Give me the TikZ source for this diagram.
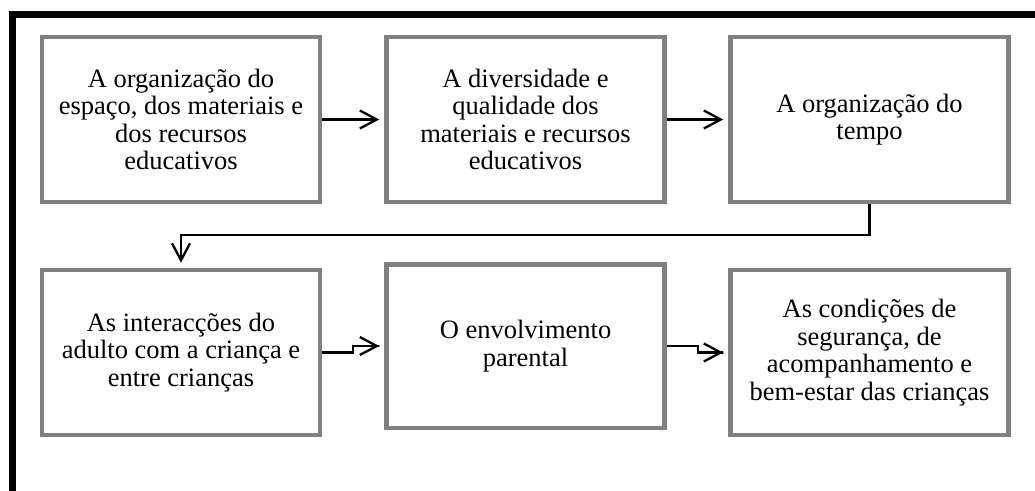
\documentclass[tikz,border=0pt]{standalone}
\usepackage{fontspec}
\setmainfont{Liberation Serif}
\usetikzlibrary{arrows.meta}
\begin{document}
\begin{tikzpicture}[x=1pt, y=-1pt,
    caixa/.style={draw=gray, line width=4.5pt,
      minimum width=278pt, minimum height=165pt, align=center,
      font=\fontsize{26.5pt}{27.5pt}\selectfont},
    seta/.style={line width=2.3pt, -{Straight Barb[length=17pt,width=18pt,line width=2.3pt]}, shorten >=5pt}]
            \useasboundingbox (0,0) rectangle (1035,490);
            \draw [line width=7pt] (12.5,492) -- (12.5,14.5) -- (1037,14.5);
            \node[caixa] (espaco) at (181,119.5) {A organização do\\espaço, dos materiais e\\dos recursos\\educativos};
            \node[caixa] (diversidade) at (525.5,119.5) {A diversidade e\\qualidade dos\\materiais e recursos\\educativos};
            \node[caixa] (tempo) at (869.5,119.5) {A organização do\\tempo};
            \node[caixa] (interaccoes) at (181,352.5) {As interacções do\\adulto com a criança e\\entre crianças};
            \node[caixa, minimum height=163.5pt] (parental) at (525.5,346) {O envolvimento\\parental};
            \node[caixa] (seguranca) at (869.5,352.5) {As condições de\\segurança, de\\acompanhamento e\\bem-estar das crianças};
            \draw [seta] (espaco) -- (diversidade);
            \draw [seta] (diversidade) -- (tempo);
            \draw [seta] (tempo.south) -- ++(0,31) -| (interaccoes.north);
            \draw [seta] (interaccoes.east) -- ++(31,0) |- ([xshift=-5pt]parental.west) -- (parental.west);
            \draw [seta] (parental.east) -- ++(31,0) |- ([xshift=-5pt]seguranca.west) -- (seguranca.west);
        \end{tikzpicture}
\end{document}
